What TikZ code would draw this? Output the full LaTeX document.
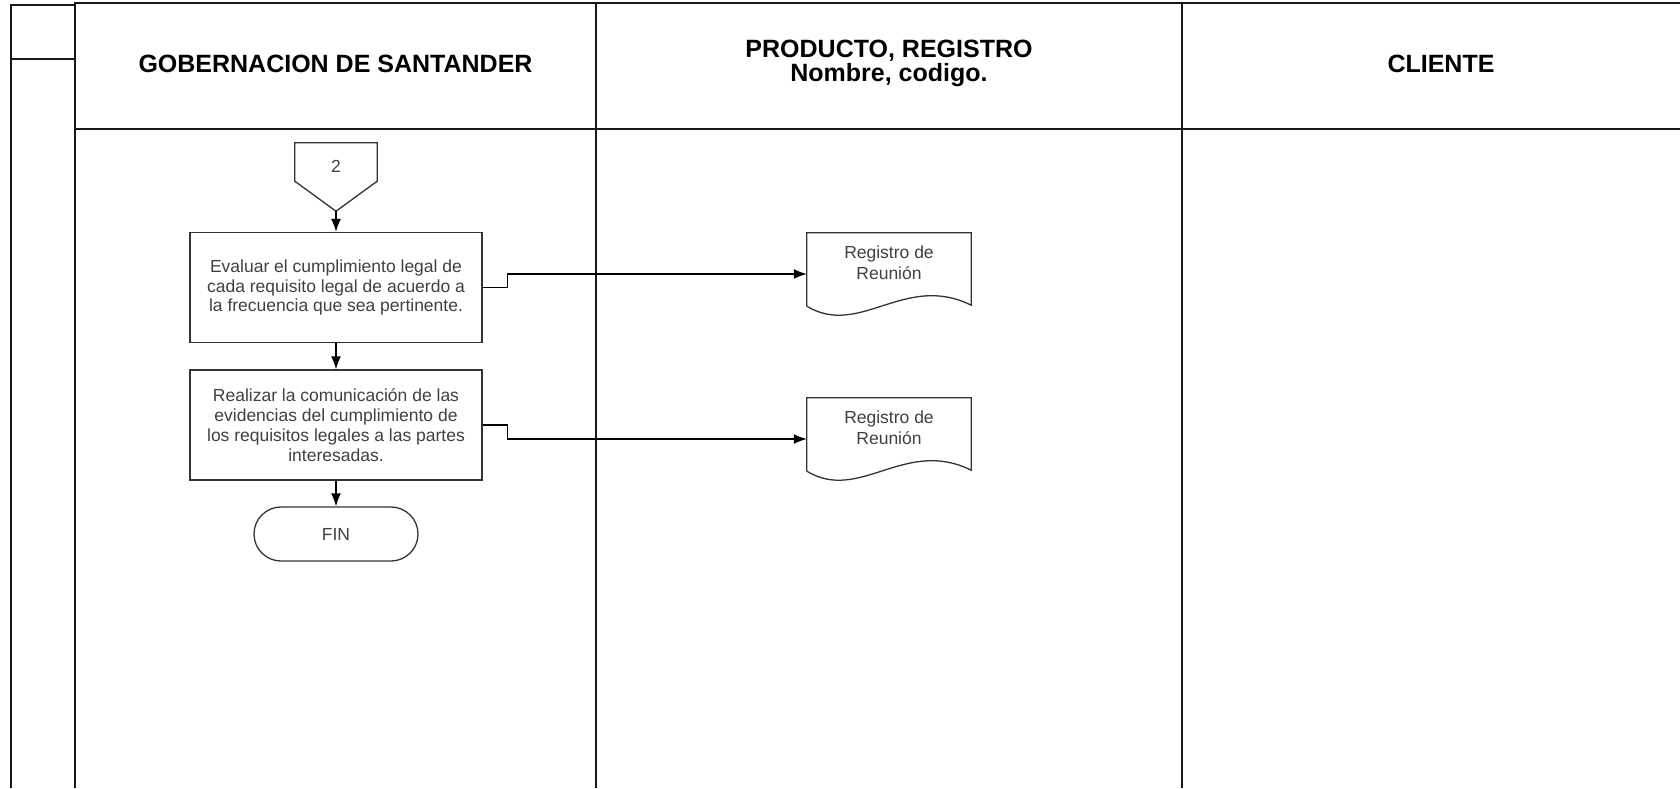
\documentclass[tikz,border=0pt]{standalone}
\usepackage{fontspec}
\setmainfont{Liberation Sans}
\usetikzlibrary{positioning, calc, arrows.meta}

\tikzset{
  lane/.style={line width=2.2pt, black!90},
  act/.style={draw=black!80, line width=1.3pt, minimum width=292pt, minimum height=110pt,
    align=center, text=black!75, font=\fontsize{17.5}{19.8}\selectfont},
  term/.style={act, minimum width=164pt, minimum height=54pt, rounded corners=27pt},
  rec/.style={minimum width=164pt, minimum height=59pt, inner sep=0pt,
    align=center, text=black!75, font=\fontsize{17.5}{20.5}\selectfont},
  recline/.style={draw=black!80, line width=1.3pt},
  head/.style={align=center, font=\fontsize{25}{24}\selectfont\bfseries},
  flow/.style={draw=black, line width=1.3pt, -{Latex[length=13pt,width=10pt]}}
}

\newcommand{\recwave}[1]{%
  \draw[recline] ($(#1.south west)+(0,14)$) -- (#1.north west) -- (#1.north east)
    -- ($(#1.south east)+(0,13)$)
    .. controls ($(#1.south west)+(98,-20)$) and ($(#1.south west)+(53,46)$)
    .. ($(#1.south west)+(0,14)$);}

\begin{document}
\begin{tikzpicture}[x=1pt,y=-1pt,node distance=2cm,on grid]
	\useasboundingbox (0,0) rectangle (1680,788);
	
	%Lanes
	\draw[lane] (11,788) -- (11,5) -- (75,5);
	\draw[lane] (11,59) -- (75,59);
	\draw[lane] (75,788) -- (75,3) -- (1680,3);
	\draw[lane] (75,129) -- (1680,129);
	\foreach \x in {596,1182}
	\draw[lane] (\x,3) -- (\x,788);
	
	\node[head] (h_gob)  at (335.5,64) {GOBERNACION DE SANTANDER};
	\node[head] (h_prod) at (889,63)   {PRODUCTO, REGISTRO\\Nombre, codigo.};
	\node[head] (h_cli)  at (1441,64)  {CLIENTE};
	
	%Activities
	\node[act] (a_1) at (336,287.5) {Evaluar el cumplimiento legal de\\cada requisito legal de acuerdo a\\la frecuencia que sea pertinente.};
	\node[act] (a_2) [below=137.5pt of a_1] {Realizar la comunicación de las\\evidencias del cumplimiento de\\los requisitos legales a las partes\\interesadas.};
	\node[term] (fin) [below=109pt of a_2] {FIN};
	
	%Off page connector
	\node[minimum width=82pt, minimum height=46pt, inner sep=0pt, text=black!75,
	  font=\fontsize{17.5}{19.5}\selectfont] (c_2) [above=121.5pt of a_1] {2};
	\draw[recline] (c_2.north west) -- (c_2.north east) -- ($(c_2.south east)+(0,-8)$)
	  -- ($(c_2.south)+(0,22)$) coordinate (c_2tip) -- ($(c_2.south west)+(0,-8)$) -- cycle;
	
	%Records
	\node[rec] (r_1) at (889,262.5) {Registro de\\Reunión};
	\node[rec] (r_2) [below=165pt of r_1] {Registro de\\Reunión};
	\recwave{r_1}
	\recwave{r_2}
	
	%Flow
	\draw[flow] (c_2tip) -- (a_1);
	\draw[flow] (a_1) -- (a_2);
	\draw[flow] (a_2) -- (fin);
	\draw[flow] (a_1.east) -- ++(25,0) |- ([yshift=-11.5pt]r_1.west);
	\draw[flow] (a_2.east) -- ++(25,0) |- ([yshift=-11.5pt]r_2.west);
	
\end{tikzpicture}
\end{document}
